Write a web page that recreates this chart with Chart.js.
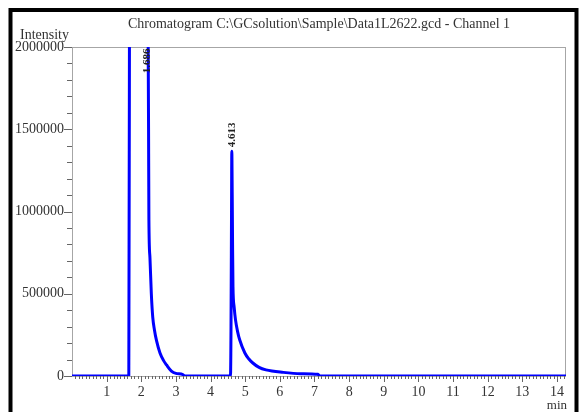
<!DOCTYPE html>
<html>
<head>
<meta charset="utf-8">
<script src="https://cdn.jsdelivr.net/npm/chart.js@4/dist/chart.umd.min.js"></script>
<style>
  html, body { margin: 0; padding: 0; background: #fff; }
  #wrap { width: 581px; height: 412px; position: relative; }
</style>
</head>
<body>
<div id="wrap"><canvas id="chrom"></canvas></div>
<script>
// retention time (min) and detector intensity
var times = [0, 1.64, 1.665, 1.68, 2.18, 2.195, 2.21, 2.22, 2.25, 2.29, 2.33, 2.38, 2.44, 2.54, 2.64, 2.73, 2.87, 3.0, 3.2, 3.25,
             4.575, 4.59, 4.605, 4.613, 4.625, 4.635, 4.647, 4.68, 4.72, 4.78, 4.84, 4.99, 5.1, 5.22, 5.4, 5.6, 6.1, 6.6, 7.1, 7.15, 14.26];
var intensity = [0, 0, 3000000, 4000000, 3000000, 2200000, 1500000, 950000, 720000, 500000, 360000, 280000, 215000, 140000, 95000, 67000, 30000, 16000, 9000, 0,
                 0, 300000, 1000000, 1366000, 1100000, 800000, 543000, 420000, 341000, 270000, 220000, 140000, 105000, 79000, 52000, 37000, 22000, 14000, 10000, 0, 0];
var yTicks = [0, 500000, 1000000, 1500000, 2000000];
var xTicks = [1, 2, 3, 4, 5, 6, 7, 8, 9, 10, 11, 12, 13, 14];
var peakNames = ['1.686', '4.613'];
var peakLabelTime = [2.16, 4.613];
var peakLabelBase = [1840000, 1390000];

var serif = '"Liberation Serif", "Times New Roman", serif';

var points = times.map(function (t, i) { return { x: t, y: intensity[i] }; });

var decor = {
  id: 'decor',
  beforeDatasetsDraw: function (chart) {
    var ctx = chart.ctx, a = chart.chartArea;
    ctx.save();
    ctx.strokeStyle = '#a6a6a6';
    ctx.lineWidth = 1;
    ctx.strokeRect(a.left + 0.5, a.top + 0.5, a.right - a.left - 1, a.bottom - a.top);
    ctx.restore();
  },
  afterDraw: function (chart) {
    var ctx = chart.ctx, a = chart.chartArea;
    var xs = chart.scales.x, ys = chart.scales.y;
    ctx.save();

    // x ticks, 0.1 min apart
    ctx.strokeStyle = '#666';
    ctx.lineWidth = 1;
    ctx.beginPath();
    for (var i = 1; i <= 142; i++) {
      var px = Math.round(xs.getPixelForValue(i / 10)) + 0.5;
      var len = (i % 10 === 0) ? 6 : 3;
      ctx.moveTo(px, a.bottom);
      ctx.lineTo(px, a.bottom + len);
    }
    // y ticks, 100000 apart
    for (var v = 0; v <= 2000000; v += 100000) {
      var py = Math.round(ys.getPixelForValue(v)) + 0.5;
      var l = (v % 500000 === 0) ? 8 : 5;
      ctx.moveTo(a.left, py);
      ctx.lineTo(a.left - l, py);
    }
    ctx.stroke();

    // peak labels
    ctx.fillStyle = '#222';
    ctx.font = 'bold 11px ' + serif;
    ctx.textAlign = 'left';
    ctx.textBaseline = 'middle';
    for (var k = 0; k < peakNames.length; k++) {
      var lx = xs.getPixelForValue(peakLabelTime[k]);
      var ly = ys.getPixelForValue(peakLabelBase[k]);
      ctx.save();
      ctx.translate(lx, ly);
      ctx.rotate(-Math.PI / 2);
      ctx.fillText(peakNames[k], 0, 0);
      ctx.restore();
    }

    // title and axis names
    ctx.fillStyle = '#333';
    ctx.font = '14px ' + serif;
    ctx.textAlign = 'center';
    ctx.textBaseline = 'middle';
    ctx.fillText('Chromatogram C:\\GCsolution\\Sample\\Data1L2622.gcd - Channel 1', (a.left + a.right) / 2, 24);
    ctx.textAlign = 'left';
    ctx.fillText('Intensity', 20, 35);
    ctx.font = '13px ' + serif;
    ctx.textAlign = 'right';
    ctx.fillText('min', a.right + 1, 406);

    // outer frame
    ctx.strokeStyle = '#000';
    ctx.lineWidth = 4;
    ctx.beginPath();
    ctx.moveTo(10.5, 420);
    ctx.lineTo(10.5, 10);
    ctx.lineTo(576.5, 10);
    ctx.lineTo(576.5, 420);
    ctx.stroke();
    ctx.restore();
  }
};

new Chart(document.getElementById('chrom'), {
  type: 'line',
  data: {
    datasets: [{
      data: points,
      borderColor: '#0000ff',
      borderWidth: 3,
      pointRadius: 0,
      cubicInterpolationMode: 'monotone',
      fill: false
    }]
  },
  options: {
    responsive: true,
    maintainAspectRatio: false,
    animation: false,
    layout: { padding: { top: 47, right: 15, left: 0, bottom: 0 } },
    plugins: { legend: { display: false }, tooltip: { enabled: false }, title: { display: false } },
    scales: {
      x: {
        type: 'linear',
        min: 0,
        max: 14.26,
        afterFit: function (s) { s.height = 36; },
        afterBuildTicks: function (s) { s.ticks = xTicks.map(function (v) { return { value: v }; }); },
        grid: { display: false, drawTicks: false },
        border: { display: false },
        ticks: {
          padding: 8,
          color: '#333',
          font: { family: serif, size: 14 },
          maxRotation: 0,
          autoSkip: false
        }
      },
      y: {
        min: 0,
        max: 2000000,
        afterFit: function (s) { s.width = 72; },
        afterBuildTicks: function (s) { s.ticks = yTicks.map(function (v) { return { value: v }; }); },
        grid: { display: false, drawTicks: false },
        border: { display: true, color: '#a6a6a6', width: 1 },
        ticks: {
          padding: 8,
          color: '#333',
          font: { family: serif, size: 14 },
          callback: function (v) { return String(v); }
        }
      }
    }
  },
  plugins: [decor]
});
</script>
</body>
</html>
